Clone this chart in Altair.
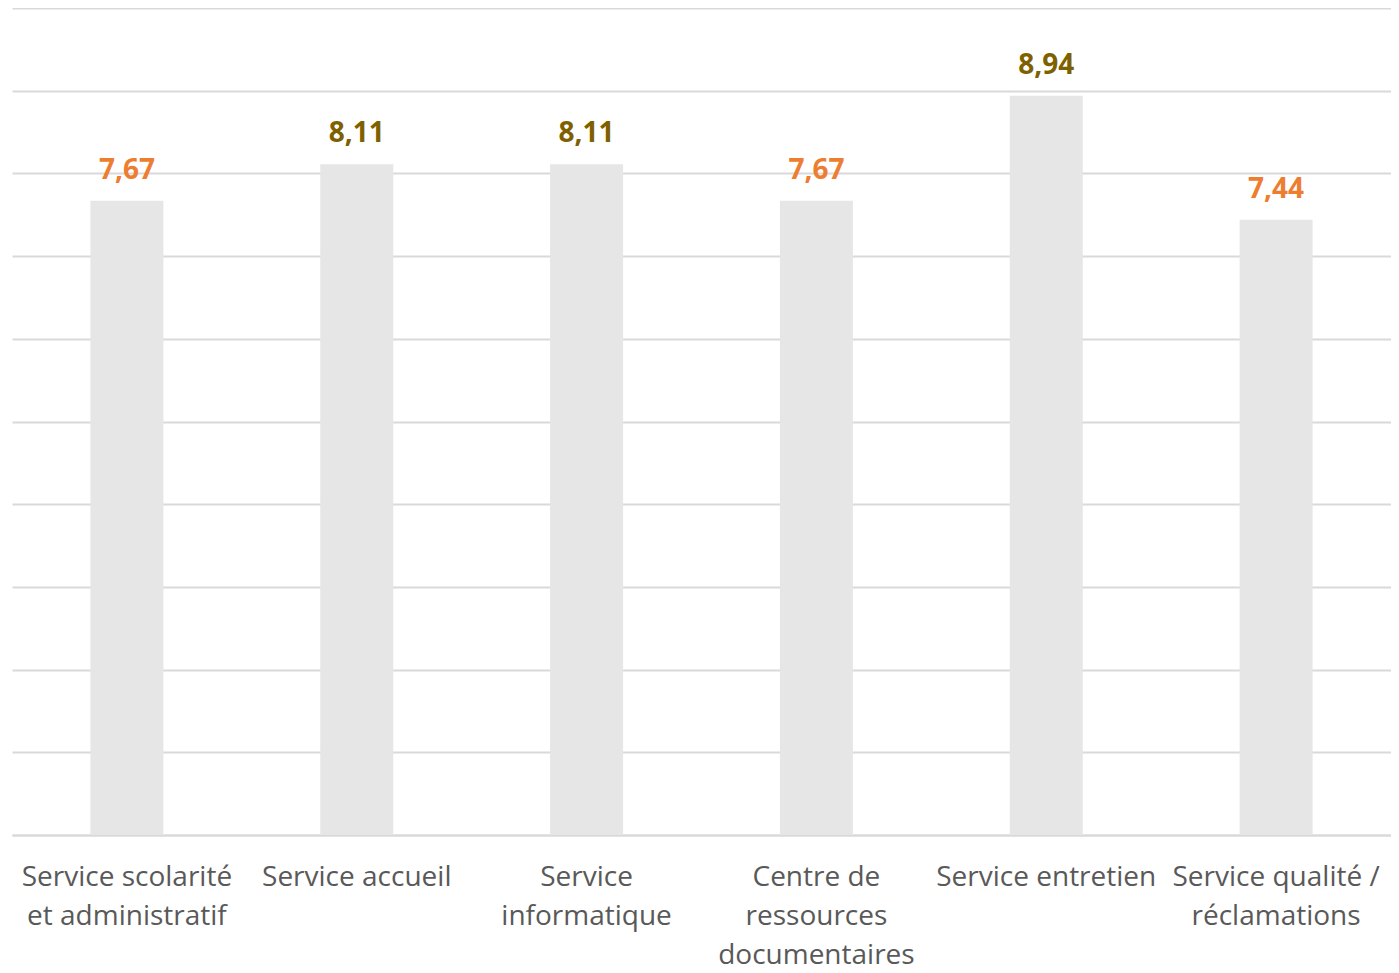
import altair as alt
import pandas as pd

categories = [
    "Service scolarité\net administratif",
    "Service accueil",
    "Service\ninformatique",
    "Centre de\nressources\ndocumentaires",
    "Service entretien",
    "Service qualité /\nréclamations",
]
values = [7.67, 8.11, 8.11, 7.67, 8.94, 7.44]
labels = ["7,67", "8,11", "8,11", "7,67", "8,94", "7,44"]
grid_values = [0, 1, 2, 3, 4, 5, 6, 7, 8, 9, 10]

df = pd.DataFrame({"cat": categories, "value": values, "label": labels})

x = alt.X(
    "cat:N",
    sort=None,
    title=None,
    scale=alt.Scale(paddingInner=0, paddingOuter=0),
    axis=alt.Axis(
        labelExpr="split(datum.label, '\\n')",
        labelAngle=0,
        labelFont="Open Sans",
        labelFontSize=28,
        labelColor="#595959",
        labelLineHeight=39,
        labelPadding=28,
        ticks=False,
        domain=True,
        domainColor="#D9D9D9",
        domainWidth=2,
        labelLimit=300,
        grid=False,
    ),
)
y = alt.Y(
    "value:Q",
    title=None,
    scale=alt.Scale(domain=[0, 10], nice=False),
    axis=alt.Axis(
        labels=False,
        ticks=False,
        domain=False,
        values=grid_values,
        gridColor="#D9D9D9",
        gridWidth=2,
    ),
)

bars = alt.Chart(df).mark_bar(size=73, color="#E7E6E6").encode(x=x, y=y)

text = alt.Chart(df).mark_text(
    font="Open Sans", fontSize=28, fontWeight="bold", baseline="bottom", dy=-16
).encode(
    x=x,
    y=y,
    text="label:N",
    color=alt.condition(alt.datum.value >= 8, alt.value("#7F6000"), alt.value("#ED7D31")),
)

chart = (
    alt.layer(bars, text)
    .properties(
        width=1379,
        height=827,
        padding={"left": 4, "top": 0, "right": 0, "bottom": 3},
        view=alt.ViewBackground(strokeWidth=0, strokeOpacity=0),
    )
    .configure_view(strokeWidth=0)
    .configure(background="white")
)

chart.save("out.html", embed_options={"renderer": "svg", "actions": False})
